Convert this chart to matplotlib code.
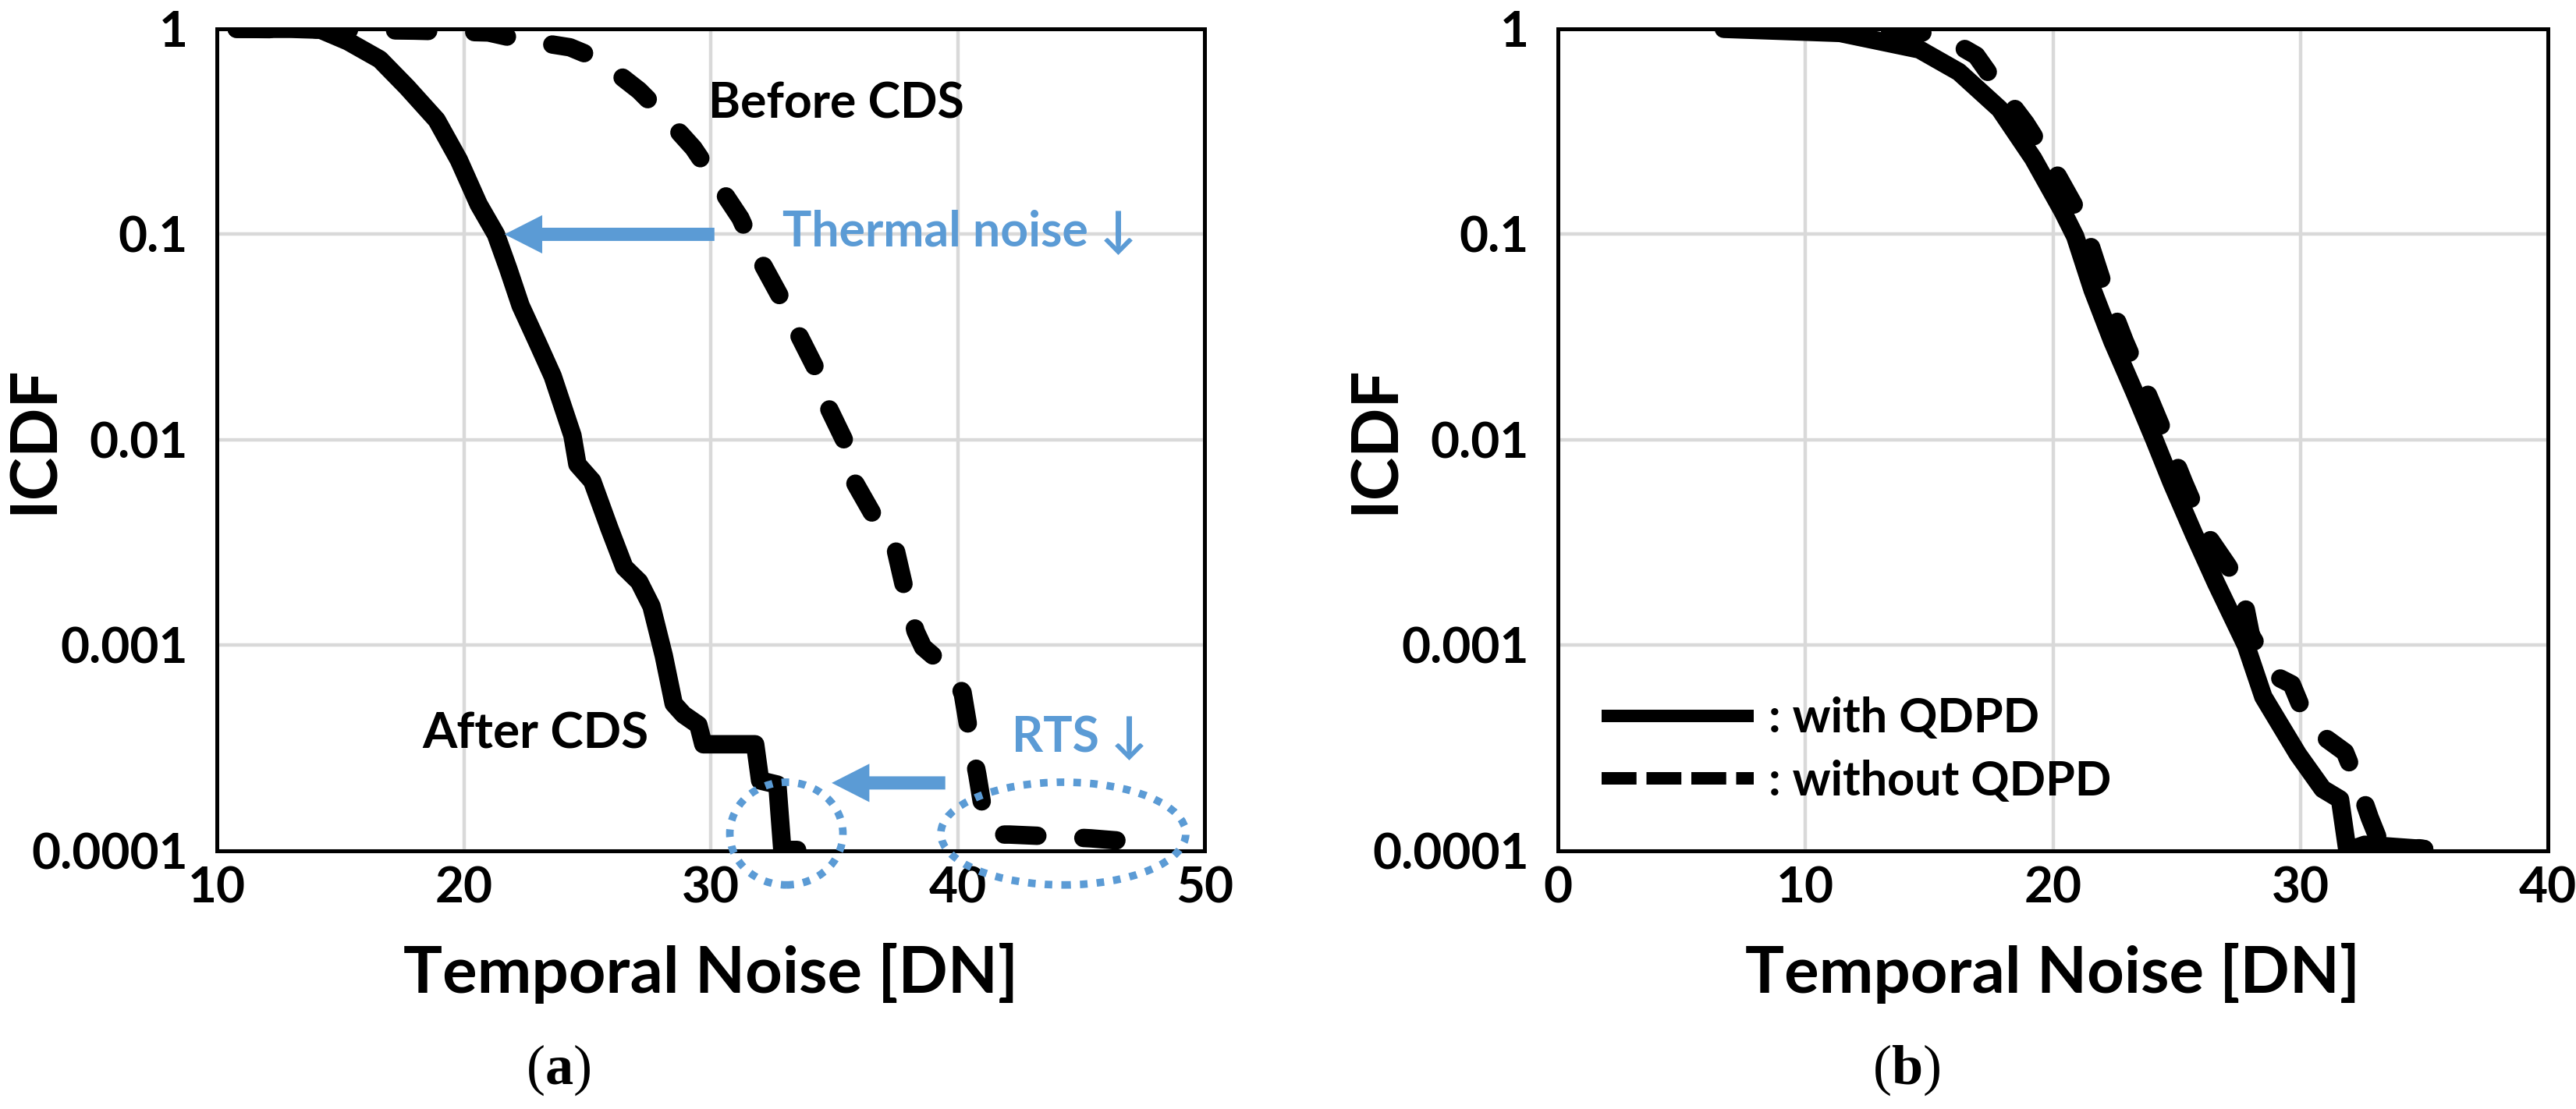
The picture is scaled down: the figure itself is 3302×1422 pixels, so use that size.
import matplotlib
matplotlib.use("Agg")
import matplotlib.pyplot as plt
from matplotlib.lines import Line2D
from matplotlib.patches import Ellipse

# ---- panel (a): ICDF before / after CDS ----
after_x = [10.8, 12.0, 13.0, 14.2, 15.3, 16.6, 17.7, 18.9, 19.8, 20.6, 21.3, 21.8,
           22.3, 23.0, 23.6, 24.4, 24.6, 25.2, 25.9, 26.5, 27.1, 27.6, 28.1, 28.5,
           28.9, 29.5, 29.7, 31.8, 32.0, 32.7, 32.9, 33.5]
after_y = [1.0, 1.0, 1.0, 0.99, 0.87, 0.71, 0.52, 0.36, 0.23, 0.14, 0.1, 0.068,
           0.045, 0.0295, 0.0204, 0.0105, 0.0076, 0.0063, 0.0037, 0.0024, 0.00204, 0.00155, 0.00089, 0.00052,
           0.00046, 0.00041, 0.00033, 0.00033, 0.00022, 0.00021, 0.000101, 0.000101]

before_x = [10.8, 15.0, 18.0, 21.0, 22.2, 24.3, 25.5, 27.1, 28.1, 29.3, 30.2, 31.2,
            31.8, 32.8, 33.4, 34.2, 34.6, 35.4, 35.8, 36.65, 37.5, 37.9, 38.3, 38.6,
            39.3, 40.2, 40.5, 40.8, 41.1, 41.5, 42.1, 44.2, 45.4, 47.4]
before_y = [1.0, 0.99, 0.98, 0.96, 0.891, 0.813, 0.708, 0.501, 0.380, 0.263, 0.182, 0.120,
            0.0832, 0.0501, 0.0355, 0.0229, 0.0158, 0.0100, 0.0063, 0.00417, 0.00288, 0.00178, 0.00117, 0.00098,
            0.00083, 0.00059, 0.00036, 0.000234, 0.000141, 0.00012, 0.00012, 0.000117, 0.000115, 0.00011]

# ---- panel (b): ICDF with / without QDPD ----
with_x = [6.7, 11.4, 14.6, 16.2, 17.85, 19.2, 20.4, 20.9, 21.6, 22.4, 23.3, 24.1,
          24.8, 25.7, 26.6, 27.4, 27.8, 28.5, 29.2, 29.9, 30.9, 31.6, 31.9, 32.6, 35.0]
with_y = [1.0, 0.955, 0.794, 0.617, 0.407, 0.234, 0.129, 0.0977, 0.0537, 0.0302, 0.0170, 0.0100,
          0.00617, 0.00347, 0.00200, 0.00126, 0.00100, 0.000562, 0.000407, 0.000295, 0.000200, 0.000178,
          0.0001, 0.000107, 0.000102]

without_x = [7.0, 14.0, 15.6, 16.9, 17.9, 18.9, 19.8, 21.0, 21.4, 22.1, 22.9, 23.8,
             24.6, 25.3, 26.2, 27.0, 27.6, 28.0, 29.0, 29.65, 30.2, 31.0, 31.8, 32.4,
             32.8, 33.2, 35.0]
without_y = [1.0, 1.0, 0.912, 0.741, 0.501, 0.347, 0.234, 0.129, 0.0977, 0.0537, 0.0302, 0.0170,
             0.0100, 0.00617, 0.00347, 0.00251, 0.00195, 0.00112, 0.000708, 0.000646, 0.000447, 0.000355,
             0.000302, 0.000200, 0.000145, 0.00011, 0.000102]

a_xticks = [10, 20, 30, 40, 50]
b_xticks = [0, 10, 20, 30, 40]
y_ticks = [1e-4, 1e-3, 1e-2, 1e-1, 1]
y_ticklabels = ["0.0001", "0.001", "0.01", "0.1", "1"]

BLUE = "#5B9BD5"
GRID = "#D9D9D9"
FONT = ["Lato", "DejaVu Sans"]

plt.rcParams["font.family"] = FONT
plt.rcParams["font.weight"] = "bold"
plt.rcParams["mathtext.fontset"] = "custom"
plt.rcParams["mathtext.rm"] = "Liberation Serif:normal"
plt.rcParams["mathtext.bf"] = "Liberation Serif:bold"

fig = plt.figure(figsize=(33.02, 14.22), dpi=100)
ax_a = fig.add_axes([0.0842, 0.2328, 0.3834, 0.7412])
ax_b = fig.add_axes([0.6048, 0.2328, 0.3843, 0.7412])


def style_axes(ax, xticks):
    ax.set_yscale("log")
    ax.set_xlim(xticks[0], xticks[-1])
    ax.set_ylim(1e-4, 1)
    ax.set_xticks(xticks)
    ax.set_xticklabels([str(t) for t in xticks])
    ax.set_yticks(y_ticks)
    ax.set_yticklabels(y_ticklabels)
    ax.minorticks_off()
    ax.tick_params(axis="both", length=0, labelsize=46)
    ax.tick_params(axis="x", pad=14)
    ax.tick_params(axis="y", pad=27)
    ax.grid(True, color=GRID, lw=3.2)
    ax.set_axisbelow(True)
    for sp in ax.spines.values():
        sp.set_linewidth(3.6)
        sp.set_color("black")
    ax.set_xlabel("Temporal Noise [DN]", fontsize=60, fontweight="bold")
    ax.set_ylabel("ICDF", fontsize=60, fontweight="bold")
    ax.xaxis.set_label_coords(0.5, -0.112)
    ax.yaxis.set_label_coords(-0.155, 0.5)


style_axes(ax_a, a_xticks)
style_axes(ax_b, b_xticks)

line_kw = dict(color="black", lw=17, solid_capstyle="round", solid_joinstyle="round",
               dash_capstyle="round", dash_joinstyle="round")

# panel (a)
ax_a.plot(after_x, after_y, **line_kw)
ax_a.plot(before_x, before_y, dashes=(1.8, 2.5), **line_kw)

ax_a.text(29.9, 0.369, "Before CDS", fontsize=45, fontweight="bold", ha="left", va="baseline")
ax_a.text(27.5, 0.000316, "After CDS", fontsize=46, fontweight="bold", ha="right", va="baseline")
ax_a.text(32.9, 0.0879, "Thermal noise \u2193", fontsize=45, fontweight="bold", color=BLUE,
          ha="left", va="baseline")
ax_a.text(42.2, 0.000302, "RTS \u2193", fontsize=45, fontweight="bold", color=BLUE,
          ha="left", va="baseline")

arrow_kw = dict(arrowstyle="simple,head_length=0.57,head_width=0.58,tail_width=0.2",
                mutation_scale=61, color=BLUE, lw=0, shrinkA=0, shrinkB=0)
ax_a.annotate("", xy=(21.65, 0.1), xytext=(30.15, 0.1), arrowprops=arrow_kw)
ax_a.annotate("", xy=(34.9, 0.000214), xytext=(39.5, 0.000214), arrowprops=arrow_kw)

for cx, w in [(0.5766, 0.1145), (0.857, 0.248)]:
    ax_a.add_patch(Ellipse((cx, 0.021), width=w, height=0.125, transform=ax_a.transAxes,
                           fill=False, edgecolor=BLUE, lw=7, linestyle=(0, (1.0, 1.2)),
                           clip_on=False, zorder=5))

# panel (b)
ax_b.plot(with_x, with_y, **line_kw)
ax_b.plot(without_x, without_y, dashes=(1.8, 2.5), **line_kw)

handles = [Line2D([], [], color="black", lw=11.5, solid_capstyle="butt"),
           Line2D([], [], color="black", lw=11.5, dashes=(2.8, 0.8), dash_capstyle="butt")]
leg = ax_b.legend(handles, [": with QDPD", ": without QDPD"], loc="lower left",
                  bbox_to_anchor=(0.044, 0.058), frameon=False, borderpad=0, borderaxespad=0,
                  handlelength=3.2, handletextpad=0.3, labelspacing=0.4,
                  prop=dict(family=FONT, weight="bold", size=44))

fig.text(0.2168, 0.0352, r"$\mathrm{(}\mathbf{a}\mathrm{)}$", fontsize=52, ha="center", va="center")
fig.text(0.740, 0.0352, r"$\mathrm{(}\mathbf{b}\mathrm{)}$", fontsize=52, ha="center", va="center")

fig.savefig("out.png", dpi=100)
